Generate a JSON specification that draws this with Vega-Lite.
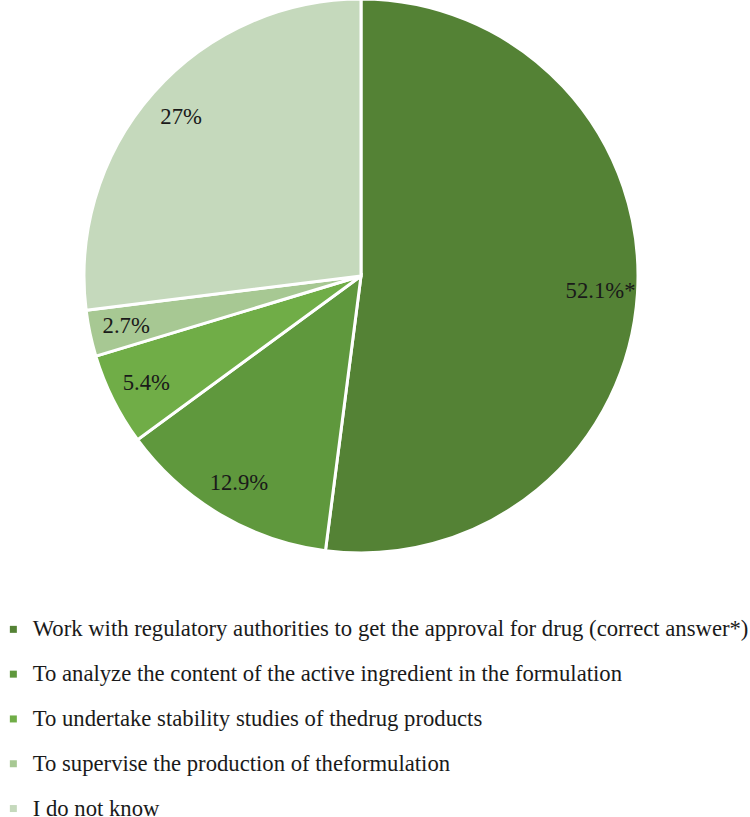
{
  "$schema": "https://vega.github.io/schema/vega-lite/v6.json",
  "width": 722,
  "height": 554,
  "padding": {"top": -7, "left": 0, "right": 0, "bottom": 0},
  "autosize": {"type": "pad"},
  "background": "white",
  "config": {"view": {"stroke": null}},
  "data": {
    "values": [
      {"k": 1, "answer": "Work with regulatory authorities to get the approval for drug (correct answer*)", "pct": 52.1, "label": "52.1%*"},
      {"k": 2, "answer": "To analyze the content of the active ingredient in the formulation", "pct": 12.9, "label": "12.9%"},
      {"k": 3, "answer": "To undertake stability studies of thedrug products", "pct": 5.4, "label": "5.4%"},
      {"k": 4, "answer": "To supervise the production of theformulation", "pct": 2.7, "label": "2.7%"},
      {"k": 5, "answer": "I do not know", "pct": 27, "label": "27%"}
    ]
  },
  "encoding": {
    "theta": {"field": "pct", "type": "quantitative", "stack": true},
    "order": {"field": "k", "type": "ordinal"}
  },
  "layer": [
    {
      "mark": {"type": "arc", "outerRadius": 277, "stroke": "white", "strokeWidth": 3},
      "encoding": {
        "color": {
          "field": "answer",
          "type": "nominal",
          "sort": null,
          "scale": {
            "domain": [
              "Work with regulatory authorities to get the approval for drug (correct answer*)",
              "To analyze the content of the active ingredient in the formulation",
              "To undertake stability studies of thedrug products",
              "To supervise the production of theformulation",
              "I do not know"
            ],
            "range": ["#548235", "#5f983d", "#70ad47", "#a7c893", "#c5d9bc"]
          },
          "legend": {
            "orient": "none",
            "legendX": 2,
            "legendY": 619,
            "direction": "vertical",
            "title": null,
            "symbolType": "square",
            "symbolSize": 49,
            "symbolStrokeWidth": 0,
            "labelFont": "Liberation Serif",
            "labelFontSize": 22.7,
            "labelColor": "#1a1a1a",
            "labelLimit": 0,
            "labelOffset": 8,
            "rowPadding": 20.8,
            "padding": 0
          }
        }
      }
    },
    {
      "mark": {"type": "text", "radius": 240, "font": "Liberation Serif", "fontSize": 22.7, "color": "#1a1a1a"},
      "encoding": {
        "text": {"field": "label", "type": "nominal"}
      }
    }
  ]
}
